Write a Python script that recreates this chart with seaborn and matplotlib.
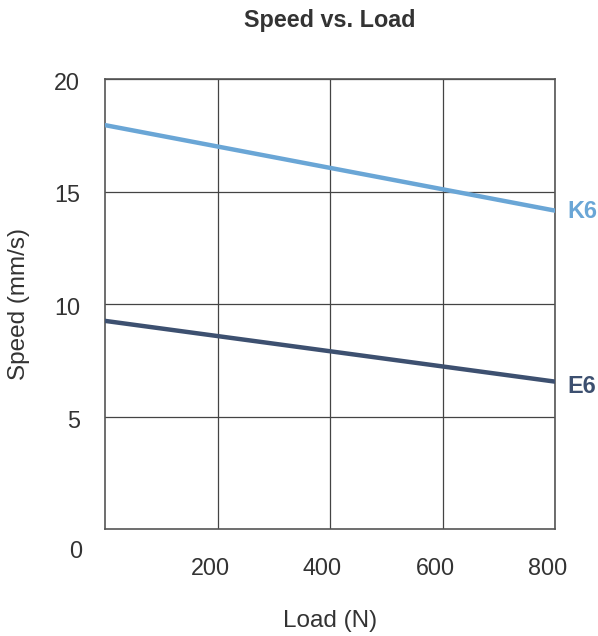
import numpy as np
import pandas as pd
import matplotlib
matplotlib.use('Agg')
import matplotlib.pyplot as plt
import matplotlib.transforms as mtransforms
import seaborn as sns

# data
load = [0, 800]
speed_k6 = [17.95, 14.15]
speed_e6 = [9.25, 6.55]
series = ['K6', 'E6']
x_ticks = [200, 400, 600, 800]
y_ticks = [5, 10, 15, 20]

colors = {'K6': '#6aa6d6', 'E6': '#3d5070'}
text_col = '#333333'
fs = 16.8

df = pd.DataFrame({
    'load': load + load,
    'speed': speed_k6 + speed_e6,
    'model': ['K6'] * 2 + ['E6'] * 2,
})

sns.set_style('white')
plt.rcParams['font.family'] = ['Liberation Sans', 'DejaVu Sans']

fig = plt.figure(figsize=(5.98, 6.36), dpi=100)
ax = fig.add_axes([105 / 598, 1 - 529 / 636, 450 / 598, 450 / 636])

sns.lineplot(data=df, x='load', y='speed', hue='model', palette=colors,
             linewidth=3.2, legend=False, ax=ax, zorder=3)

ax.set_xlim(0, 800)
ax.set_ylim(0, 20)
ax.set_xticks(x_ticks)
ax.set_yticks(y_ticks)
ax.grid(True, color='#444444', linewidth=0.9)
for s in ax.spines.values():
    s.set_color('#555555')
    s.set_linewidth(1.2)

ax.tick_params(length=0, labelsize=fs, labelcolor=text_col)
ax.tick_params(axis='x', pad=20)
ax.tick_params(axis='y', pad=18)
# x labels sit a bit left of their gridlines
offset = mtransforms.ScaledTranslation(-7.5 / 100, 0, fig.dpi_scale_trans)
for lbl in ax.get_xticklabels():
    lbl.set_transform(lbl.get_transform() + offset)
offset_y = mtransforms.ScaledTranslation(0, -2 / 100, fig.dpi_scale_trans)
for lbl in ax.get_yticklabels():
    lbl.set_transform(lbl.get_transform() + offset_y)

# origin label
ax.text(-53, -1.0, '0', fontsize=fs, color=text_col, ha='center', va='center')

# series end labels
ax.text(822, speed_k6[-1] - 0.05, 'K6', color=colors['K6'], fontsize=fs, fontweight='bold', va='center', ha='left')
ax.text(822, speed_e6[-1] - 0.2, 'E6', color=colors['E6'], fontsize=fs, fontweight='bold', va='center', ha='left')

ax.set_xlabel('Load (N)', fontsize=17.5, color=text_col, labelpad=22)
ax.set_ylabel('Speed (mm/s)', fontsize=17.5, color=text_col, va='center')
ax.yaxis.set_label_coords((19 - 105) / 450, 0.5)
fig.text(330 / 598, 1 - 20 / 636, 'Speed vs. Load', fontsize=16.8, fontweight='bold',
         color=text_col, ha='center', va='center')

fig.savefig('out.png', dpi=100)
